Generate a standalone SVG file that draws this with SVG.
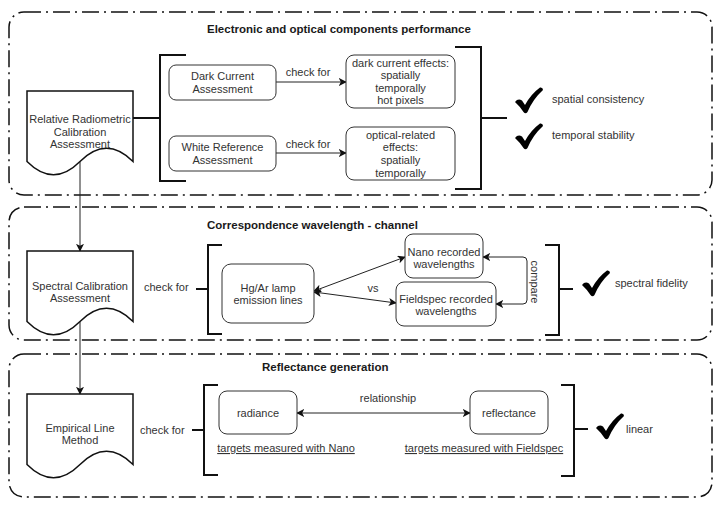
<svg xmlns="http://www.w3.org/2000/svg" width="720" height="507" viewBox="0 0 720 507">
<style>
text{font-family:"Liberation Sans",Arial,sans-serif;font-size:11px;fill:#333}
.t{font-weight:bold;font-size:11.5px;fill:#1a1a1a}
.c{text-anchor:middle}
.u{text-decoration:underline}
.cont{fill:none;stroke:#111;stroke-width:1.5;stroke-dasharray:17 5 2 5}
.box{fill:#fff;stroke:#333;stroke-width:1}
.doc{fill:#fff;stroke:#111;stroke-width:1.5}
.br{fill:none;stroke:#111;stroke-width:2}
.ln{fill:none;stroke:#222;stroke-width:1}
.chk{fill:#000}
</style>
<defs>
<marker id="ar" viewBox="0 0 10 10" refX="9" refY="5" markerWidth="8" markerHeight="8" markerUnits="userSpaceOnUse" orient="auto-start-reverse">
<path d="M0,0 L10,5 L0,10 L2.5,5 Z" fill="#111"/>
</marker>
<path id="check" d="M0,15 Q3,11 7,13.5 L10,18 Q16,7 25,0.5 Q28,0 28,3 Q18,12 12.5,25 Q10.5,27.5 8.5,25 Q4.5,19 0,15 Z"/>
</defs>
<rect width="720" height="507" fill="#fff"/>

<g id="containers">
<rect class="cont" x="9" y="12" width="703" height="183" rx="15"/>
<rect class="cont" x="9" y="207" width="703" height="133" rx="15"/>
<rect class="cont" x="9" y="354" width="703" height="143" rx="15"/>
<text class="t" x="207" y="33">Electronic and optical components performance</text>
<text class="t" x="207" y="229">Correspondence wavelength - channel</text>
<text class="t" x="262" y="371">Reflectance generation</text>
</g>

<g id="connectors">
<path class="ln" d="M80,161.5 V251" marker-end="url(#ar)"/>
<path class="ln" d="M80,321.5 V394" marker-end="url(#ar)"/>
<path class="br" d="M133,118 H160"/>
<path class="br" d="M186,55 H160 V181 H186"/>
<path class="br" d="M455,47 H481 V189 H455 M481,118 H507"/>
<path class="ln" d="M276,82 H346" marker-end="url(#ar)"/>
<text class="c" x="308" y="76">check for</text>
<path class="ln" d="M276,153 H346" marker-end="url(#ar)"/>
<text class="c" x="308" y="148">check for</text>

<text x="144" y="291">check for</text>
<path class="br" d="M196,289 H208 M222,245 H208 V334 H222"/>
<path class="ln" d="M314,291 L405,257" marker-start="url(#ar)" marker-end="url(#ar)"/>
<path class="ln" d="M314,292 L396,303" marker-start="url(#ar)" marker-end="url(#ar)"/>
<text class="c" x="373" y="292">vs</text>
<path class="ln" d="M483,257 H523 Q527,257 527,261 V300 Q527,304 523,304 H496" marker-start="url(#ar)" marker-end="url(#ar)"/>
<text class="c" transform="translate(535,282) rotate(90)" y="4">compare</text>
<path class="br" d="M545,245 H559 V335 H545 M559,289 H573"/>

<text x="140" y="434">check for</text>
<path class="br" d="M192,430 H204 M218,385 H204 V475 H218"/>
<path class="ln" d="M297,413 H470" marker-start="url(#ar)" marker-end="url(#ar)"/>
<text class="c" x="388" y="402">relationship</text>
<path class="br" d="M561,385 H574 V476 H561 M574,429 H588"/>
</g>

<g id="doc-relative">
<path class="doc" d="M27,91 H133 V161.5 Q106.5,135 80,161.5 Q53.5,188 27,161.5 Z"/>
<text class="c" x="80" y="123">Relative Radiometric</text>
<text class="c" x="80" y="136">Calibration</text>
<text class="c" x="80" y="148">Assessment</text>
</g>
<g id="doc-spectral">
<path class="doc" d="M27,251 H133 V321.5 Q106.5,295 80,321.5 Q53.5,348 27,321.5 Z"/>
<text class="c" x="80" y="290">Spectral Calibration</text>
<text class="c" x="80" y="302">Assessment</text>
</g>
<g id="doc-elm">
<path class="doc" d="M27,394 H133 V464.5 Q106.5,438 80,464.5 Q53.5,491 27,464.5 Z"/>
<text class="c" x="80" y="432">Empirical Line</text>
<text class="c" x="80" y="444">Method</text>
</g>

<g id="dark-current">
<rect class="box" x="169" y="65" width="107" height="35" rx="7"/>
<text class="c" x="222.5" y="80">Dark Current</text>
<text class="c" x="222.5" y="93">Assessment</text>
</g>
<g id="white-reference">
<rect class="box" x="169" y="136" width="107" height="35" rx="7"/>
<text class="c" x="222.5" y="151">White Reference</text>
<text class="c" x="222.5" y="164">Assessment</text>
</g>
<g id="dark-effects">
<rect class="box" x="346" y="55" width="109" height="53" rx="8"/>
<text class="c" x="400.5" y="67">dark current effects:</text>
<text class="c" x="400.5" y="79">spatially</text>
<text class="c" x="400.5" y="92">temporally</text>
<text class="c" x="400.5" y="104">hot pixels</text>
</g>
<g id="optical-effects">
<rect class="box" x="346" y="127" width="109" height="53" rx="8"/>
<text class="c" x="400.5" y="139">optical-related</text>
<text class="c" x="400.5" y="151">effects:</text>
<text class="c" x="400.5" y="164">spatially</text>
<text class="c" x="400.5" y="177">temporally</text>
</g>
<g id="result-1">
<use href="#check" class="chk" x="515" y="87"/>
<text x="552" y="103">spatial consistency</text>
<use href="#check" class="chk" x="515" y="123"/>
<text x="552" y="139">temporal stability</text>
</g>

<g id="hg-ar">
<rect class="box" x="222" y="264" width="92" height="59" rx="9"/>
<text class="c" x="268" y="292">Hg/Ar lamp</text>
<text class="c" x="268" y="304">emission lines</text>
</g>
<g id="nano-wl">
<rect class="box" x="405" y="234" width="78" height="44" rx="8"/>
<text class="c" x="444" y="256">Nano recorded</text>
<text class="c" x="444" y="268">wavelengths</text>
</g>
<g id="fieldspec-wl">
<rect class="box" x="396" y="282" width="100" height="44" rx="8"/>
<text class="c" x="446" y="303">Fieldspec recorded</text>
<text class="c" x="446" y="315">wavelengths</text>
</g>
<g id="result-2">
<use href="#check" class="chk" x="582" y="270"/>
<text x="615" y="287">spectral fidelity</text>
</g>

<g id="radiance">
<rect class="box" x="219" y="391" width="78" height="43" rx="8"/>
<text class="c" x="258" y="417">radiance</text>
<text class="c u" x="286" y="452">targets measured with Nano</text>
</g>
<g id="reflectance">
<rect class="box" x="470" y="391" width="78" height="43" rx="8"/>
<text class="c" x="509" y="417">reflectance</text>
<text class="c u" x="484" y="452">targets measured with Fieldspec</text>
</g>
<g id="result-3">
<use href="#check" class="chk" x="596" y="413"/>
<text x="626" y="433">linear</text>
</g>
</svg>
